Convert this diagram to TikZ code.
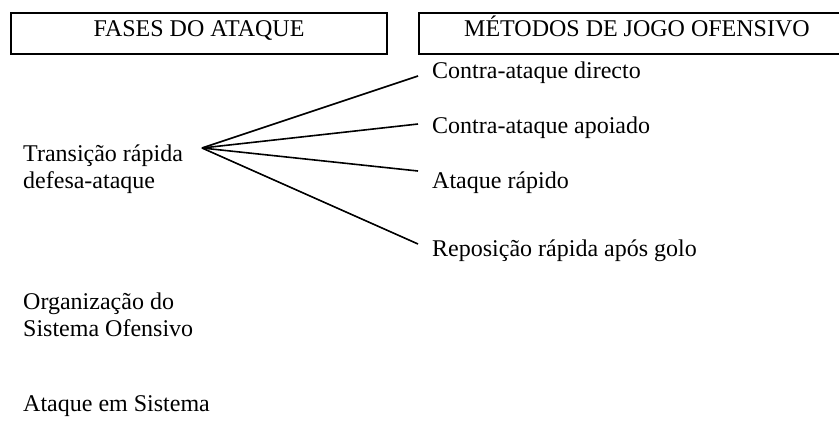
\documentclass[tikz,border=0pt]{standalone}
\usepackage{fontspec}
\setmainfont{Liberation Serif}
\begin{document}
\begin{tikzpicture}[x=1pt,y=-1pt,
  font=\fontsize{24}{27.6}\selectfont,
  hbox/.style={draw, line width=2pt, inner sep=0pt, anchor=north west, minimum height=41pt},
  hdr/.style={anchor=base, inner sep=0pt},
  lbl/.style={anchor=base west, inner sep=0pt},
  fan/.style={line width=1.6pt}]
\useasboundingbox (0,0) rectangle (839,437);
\clip (0,0) rectangle (839,437);
% header boxes
\node[hbox, minimum width=376pt] (b1) at (10,12) {};
\node[hbox, minimum width=436pt] (b2) at (418,12) {};
\node[hdr] (t1) at ([yshift=-24pt]b1.north) {FASES DO ATAQUE};
\node[hdr] (t2) at ([yshift=-24pt]b2.north) {MÉTODOS DE JOGO OFENSIVO};
% left column
\node[lbl] (trans) at (23,161) {\begin{tabular}[t]{@{}l@{}}Transição rápida\\defesa-ataque\end{tabular}};
\node[lbl] (org) at (23,309) {\begin{tabular}[t]{@{}l@{}}Organização do\\Sistema Ofensivo\end{tabular}};
\node[lbl] (ataq) at (23,411) {Ataque em Sistema};
% right column
\node[lbl] (m1) at (432,78) {Contra-ataque directo};
\node[lbl] (m2) at (432,133) {Contra-ataque apoiado};
\node[lbl] (m3) at (432,188) {Ataque rápido};
\node[lbl] (m4) at (432,256) {Reposição rápida após golo};
% fan
\coordinate (apex) at (202,148);
\coordinate (e1) at (418,76);
\coordinate (e2) at (418,124);
\coordinate (e3) at (418,171);
\coordinate (e4) at (418,244);
\draw[fan] (apex) -- (e1);
\draw[fan] (apex) -- (e2);
\draw[fan] (apex) -- (e3);
\draw[fan] (apex) -- (e4);
\end{tikzpicture}
\end{document}
